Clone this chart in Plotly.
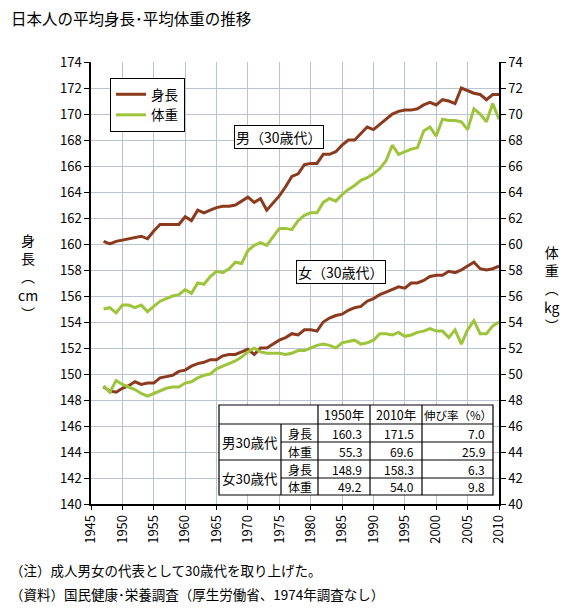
import plotly.graph_objects as go

years = [1947, 1948, 1949, 1950, 1951, 1952, 1953, 1954, 1955, 1956, 1957, 1958, 1959,
         1960, 1961, 1962, 1963, 1964, 1965, 1966, 1967, 1968, 1969, 1970, 1971, 1972, 1973,
         1975, 1976, 1977, 1978, 1979, 1980, 1981, 1982, 1983, 1984, 1985, 1986, 1987, 1988,
         1989, 1990, 1991, 1992, 1993, 1994, 1995, 1996, 1997, 1998, 1999, 2000, 2001, 2002,
         2003, 2004, 2005, 2006, 2007, 2008, 2009, 2010]

male_height = [160.2, 160.0, 160.2, 160.3, 160.4, 160.5, 160.6, 160.4, 161.0, 161.5, 161.5, 161.5, 161.5,
               162.1, 161.8, 162.6, 162.4, 162.6, 162.8, 162.9, 162.9, 163.0, 163.3, 163.6, 163.2, 163.5, 162.6,
               163.7, 164.4, 165.2, 165.4, 166.1, 166.2, 166.2, 166.9, 166.9, 167.1, 167.6, 168.0, 168.0, 168.5,
               169.0, 168.8, 169.2, 169.6, 170.0, 170.2, 170.3, 170.3, 170.4, 170.7, 170.9, 170.7, 171.1, 171.0,
               170.8, 172.0, 171.8, 171.6, 171.5, 171.1, 171.5, 171.5]

male_weight = [55.0, 55.1, 54.7, 55.3, 55.3, 55.1, 55.3, 54.8, 55.2, 55.6, 55.8, 56.0, 56.1,
               56.5, 56.2, 57.0, 56.9, 57.5, 57.9, 57.8, 58.1, 58.6, 58.5, 59.5, 59.9, 60.1, 59.9,
               61.2, 61.2, 61.1, 61.8, 62.2, 62.4, 62.4, 63.2, 63.5, 63.3, 63.8, 64.2, 64.5, 64.9,
               65.1, 65.4, 65.8, 66.4, 67.6, 66.9, 67.1, 67.3, 67.4, 68.7, 69.0, 68.3, 69.6, 69.5,
               69.5, 69.4, 68.8, 70.4, 70.0, 69.4, 70.8, 69.6]

female_height = [149.0, 148.7, 148.6, 148.9, 149.1, 149.4, 149.2, 149.3, 149.3, 149.7, 149.8, 149.9, 150.2,
                 150.3, 150.6, 150.8, 150.9, 151.1, 151.1, 151.4, 151.5, 151.5, 151.7, 151.9, 151.5, 152.0, 152.0,
                 152.6, 152.8, 153.1, 153.0, 153.4, 153.4, 153.3, 154.0, 154.3, 154.5, 154.6, 154.9, 155.1, 155.2,
                 155.6, 155.8, 156.1, 156.3, 156.5, 156.7, 156.6, 157.0, 157.0, 157.2, 157.5, 157.6, 157.6, 157.9,
                 157.8, 158.0, 158.3, 158.6, 158.1, 158.0, 158.1, 158.3]

female_weight = [49.1, 48.6, 49.5, 49.2, 49.0, 48.8, 48.5, 48.3, 48.5, 48.7, 48.9, 49.0, 49.0,
                 49.3, 49.4, 49.7, 49.9, 50.0, 50.4, 50.6, 50.8, 51.0, 51.3, 51.7, 52.0, 51.7, 51.6,
                 51.6, 51.5, 51.6, 51.8, 51.8, 52.0, 52.2, 52.3, 52.2, 52.0, 52.4, 52.5, 52.6, 52.3,
                 52.4, 52.6, 53.1, 53.1, 53.0, 53.2, 52.9, 53.0, 53.2, 53.3, 53.5, 53.3, 53.3, 52.8,
                 53.4, 52.3, 53.4, 54.1, 53.1, 53.1, 53.7, 54.0]

# summary table
table_header = ["1950年", "2010年", "伸び率（%）"]
table_groups = ["男30歳代", "女30歳代"]
table_items = ["身長", "体重", "身長", "体重"]
table_1950 = ["160.3", "55.3", "148.9", "49.2"]
table_2010 = ["171.5", "69.6", "158.3", "54.0"]
table_rate = ["7.0", "25.9", "6.3", "9.8"]

BROWN = "#8B3A1E"
GREEN = "#9DC43A"
FONT = "Noto Sans CJK JP"
OFF = 8                      # page body margin of the browser
W, H = 582 - OFF, 615 - OFF
# plot area in screenshot pixels
L, R, T, B = 91, 499, 62, 504


def px(x):
    return (x - L) / (R - L)


def py(y):
    return (B - y) / (B - T)


fig = go.Figure()
fig.add_trace(go.Scatter(x=years, y=male_height, mode="lines", name="身長",
                         line=dict(color=BROWN, width=3), legendgroup="h"))
fig.add_trace(go.Scatter(x=years, y=male_weight, mode="lines", name="体重", yaxis="y2",
                         line=dict(color=GREEN, width=3), legendgroup="w"))
fig.add_trace(go.Scatter(x=years, y=female_height, mode="lines", name="身長", showlegend=False,
                         line=dict(color=BROWN, width=3), legendgroup="h"))
fig.add_trace(go.Scatter(x=years, y=female_weight, mode="lines", name="体重", yaxis="y2", showlegend=False,
                         line=dict(color=GREEN, width=3), legendgroup="w"))

grid = "#BCC3D0"
fig.update_layout(
    width=W, height=H,
    margin=dict(l=L - OFF, r=W - (R - OFF), t=T - OFF, b=H - (B - OFF), pad=0),
    paper_bgcolor="white", plot_bgcolor="white",
    font=dict(family=FONT, size=13, color="black"),
    title=dict(text="日本人の平均身長･平均体重の推移", x=3 / W, xref="container", xanchor="left",
               y=1 - (20 - OFF) / H, yref="container", yanchor="middle",
               font=dict(family=FONT, size=15.5, color="black")),
    xaxis=dict(range=[1945, 2010], dtick=5, tick0=1945, tickangle=-90, showgrid=True, gridcolor=grid,
               gridwidth=1, showline=True, linecolor="black", linewidth=1.5, ticks="outside",
               ticklen=4, tickcolor="black", zeroline=False, tickfont=dict(size=13)),
    yaxis=dict(range=[140, 174], dtick=2, showgrid=True, gridcolor=grid, gridwidth=1,
               showline=True, linecolor="black", linewidth=1.5, ticks="outside", ticklen=5,
               tickcolor="black", zeroline=False, tickfont=dict(size=13)),
    yaxis2=dict(range=[40, 74], dtick=2, overlaying="y", side="right", showgrid=False,
                showline=True, linecolor="black", linewidth=1.5, ticks="outside", ticklen=5,
                tickcolor="black", zeroline=False, tickfont=dict(size=13)),
    legend=dict(x=px(110), y=py(78), xanchor="left", yanchor="top", bgcolor="white",
                bordercolor="black", borderwidth=1, font=dict(family=FONT, size=13.5),
                tracegroupgap=0),
    showlegend=True,
)

ann = []


def label(text, x, y, xa="center", ya="middle", size=13.5, **kw):
    d = dict(text=text, x=px(x), y=py(y), xref="paper", yref="paper", xanchor=xa, yanchor=ya,
             showarrow=False, font=dict(size=size))
    d.update(kw)
    ann.append(d)


# axis titles (vertical)
label("身<br>長<br>︵<br>cm<br>︶", 28, 276, size=14)
label("体<br>重<br>︵<br>kg<br>︶", 552, 288, size=14)

# series labels
label("男（30歳代）", 279, 137.5, size=14, bordercolor="black", borderwidth=1, bgcolor="white", borderpad=1)
label("女（30歳代）", 340.5, 271.5, size=14, bordercolor="black", borderwidth=1, bgcolor="white", borderpad=1)

# notes
label("（注）成人男女の代表として30歳代を取り上げた。", OFF, 570, xa="left")
label("（資料）国民健康･栄養調査（厚生労働省、1974年調査なし）", OFF, 594, xa="left")

# table
cols = [219, 281, 318, 370, 422, 493]
rows = [405, 424, 442, 460, 478, 495]
shapes = [dict(type="rect", xref="paper", yref="paper", x0=px(cols[0]), x1=px(cols[-1]),
               y0=py(rows[0]), y1=py(rows[-1]), fillcolor="white", line=dict(color="black", width=1.2))]


def hline(y, x0, x1):
    shapes.append(dict(type="line", xref="paper", yref="paper", x0=px(x0), x1=px(x1), y0=py(y), y1=py(y),
                       line=dict(color="black", width=1.2)))


def vline(x, y0, y1):
    shapes.append(dict(type="line", xref="paper", yref="paper", x0=px(x), x1=px(x), y0=py(y0), y1=py(y1),
                       line=dict(color="black", width=1.2)))


hline(rows[1], cols[0], cols[-1])
hline(rows[2], cols[1], cols[-1])
hline(rows[3], cols[0], cols[-1])
hline(rows[4], cols[1], cols[-1])
vline(cols[1], rows[1], rows[-1])
for c in cols[2:5]:
    vline(c, rows[0], rows[-1])

for i, h in enumerate(table_header):
    label(h, (cols[i + 2] + cols[i + 3]) / 2, (rows[0] + rows[1]) / 2, size=12.5 if i < 2 else 11.5)
for g, grp in enumerate(table_groups):
    label(grp, (cols[0] + cols[1]) / 2, rows[2 + 2 * g], size=13.5)
for r in range(4):
    yc = (rows[r + 1] + rows[r + 2]) / 2
    label(table_items[r], (cols[1] + cols[2]) / 2, yc, size=12)
    for ci, vals in zip([3, 4, 5], [table_1950, table_2010, table_rate]):
        label(vals[r], cols[ci] - 6, yc, xa="right", size=12)

fig.update_layout(annotations=ann, shapes=shapes)
fig.write_html("out.html")
